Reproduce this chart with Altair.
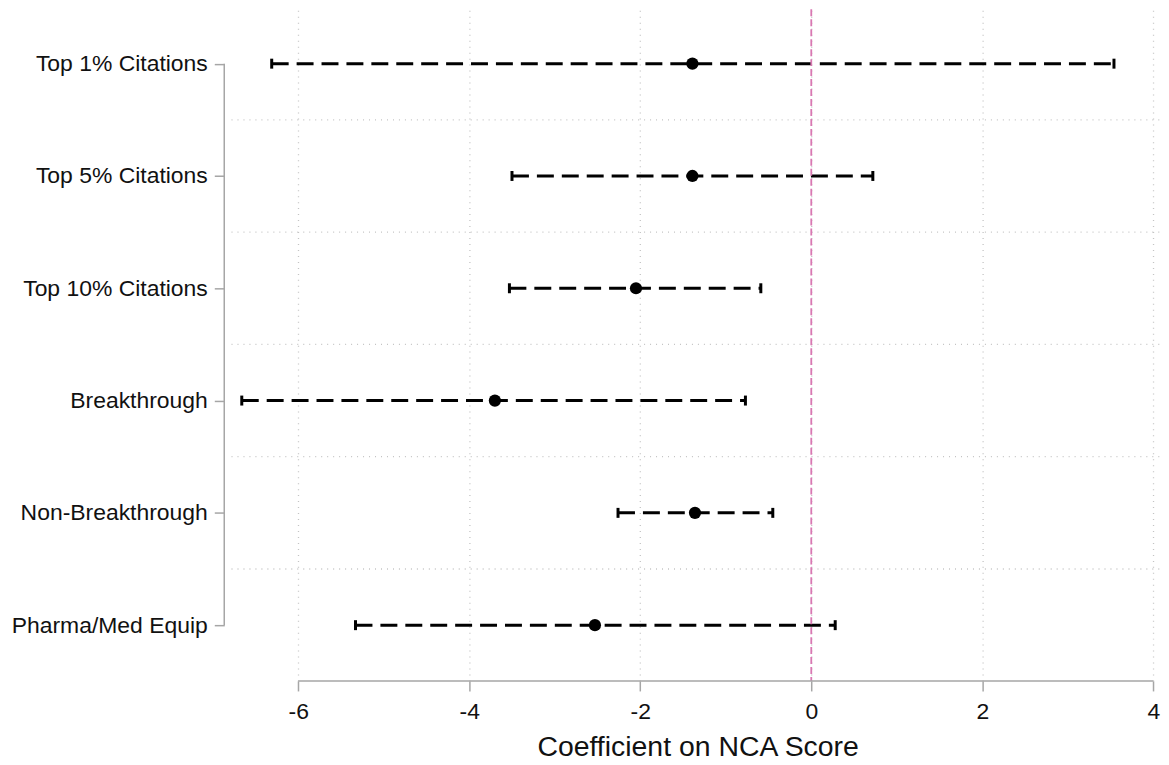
import altair as alt
import pandas as pd

# ---- data ----
labels = ["Top 1% Citations", "Top 5% Citations", "Top 10% Citations",
          "Breakthrough", "Non-Breakthrough", "Pharma/Med Equip"]
coef = [-1.39, -1.39, -2.05, -3.70, -1.36, -2.53]
lo = [-6.31, -3.50, -3.53, -6.66, -2.26, -5.33]
hi = [3.54, 0.72, -0.59, -0.77, -0.45, 0.28]
x_ticks = [-6, -4, -2, 0, 2, 4]
sep_y = [0.5, 1.5, 2.5, 3.5, 4.5]

X_MIN, X_MAX = -6.865, 4.09
SEP_X0 = -6.78

FONT = "Liberation Sans"
GREY = "#a6a6a6"
GRID = "#c4c4c4"
PINK = "#d878b2"

df = pd.DataFrame({"idx": list(range(len(labels))), "label": labels,
                   "coef": coef, "lo": lo, "hi": hi})
sep_df = pd.DataFrame({"idx": sep_y, "lo": [SEP_X0] * len(sep_y), "hi": [X_MAX] * len(sep_y)})
zero_df = pd.DataFrame({"lo": [0]})
xaxis_df = pd.DataFrame({"lo": [x_ticks[0]], "hi": [x_ticks[-1]], "idx": [len(labels) - 0.503]})
yaxis_df = pd.DataFrame({"lo": [X_MIN], "idx": [0], "idx2": [len(labels) - 1]})

x_scale = alt.Scale(domain=[X_MIN, X_MAX], nice=False, zero=False)
y_scale = alt.Scale(domain=[-0.484, len(labels) - 0.503], reverse=True, nice=False, zero=False)

label_expr = "[" + ",".join("'" + l + "'" for l in labels) + "][datum.value]"

x_axis = alt.Axis(values=x_ticks, grid=True, gridDash=[1, 5], gridColor=GRID, gridWidth=1.3,
                  domain=False, ticks=True, tickSize=10, tickColor=GREY, tickWidth=1.5,
                  labelExpr="'' + datum.value", labelFontSize=23, labelColor="#111111",
                  labelPadding=10, labelFont=FONT,
                  title="Coefficient on NCA Score", titleFontSize=28.5, titleFont=FONT,
                  titleFontWeight="normal", titleColor="#111111", titlePadding=9,
                  titleX=475)
y_axis = alt.Axis(values=list(range(len(labels))), grid=False, domain=False,
                  ticks=True, tickSize=10, tickColor=GREY, tickWidth=1.5,
                  labelExpr=label_expr, labelFontSize=23, labelColor="#111111",
                  labelPadding=7, labelFont=FONT, labelLimit=400, title="")

X = alt.X("lo:Q", scale=x_scale, axis=x_axis)
Y = alt.Y("idx:Q", scale=y_scale, axis=y_axis)

seps = alt.Chart(sep_df).mark_rule(color=GRID, strokeDash=[1, 5], strokeWidth=1.3).encode(
    x=X, x2="hi:Q", y=Y)

bars = alt.Chart(df).mark_rule(color="black", strokeDash=[17, 8], strokeWidth=3).encode(
    x=X, x2="hi:Q", y=Y)

cap_lo = alt.Chart(df).mark_tick(color="black", opacity=1, orient="vertical", size=10, thickness=3).encode(
    x=X, y=Y)
cap_hi = alt.Chart(df).mark_tick(color="black", opacity=1, orient="vertical", size=10, thickness=3).encode(
    x=alt.X("hi:Q", scale=x_scale, axis=x_axis), y=Y)

zero = alt.Chart(zero_df).mark_rule(color=PINK, strokeDash=[7, 3], strokeWidth=1.8).encode(
    x=X)

points = alt.Chart(df).mark_circle(color="black", opacity=1, size=150).encode(
    x=alt.X("coef:Q", scale=x_scale, axis=x_axis), y=Y)

xline = alt.Chart(xaxis_df).mark_rule(color=GREY, strokeWidth=1.5).encode(
    x=X, x2="hi:Q", y=Y)
yline = alt.Chart(yaxis_df).mark_rule(color=GREY, strokeWidth=1.5).encode(
    x=X, y=Y, y2="idx2:Q")

chart = alt.layer(seps, bars, cap_lo, cap_hi, zero, points, xline, yline).properties(
    width=940, height=674,
    autosize=alt.AutoSizeParams(type="none"),
    padding={"left": 217, "top": 0, "right": 0, "bottom": 83},
    background="white",
).configure(font=FONT).configure_view(stroke=None)

chart.save("out.html", embed_options={"renderer": "svg", "actions": False})
